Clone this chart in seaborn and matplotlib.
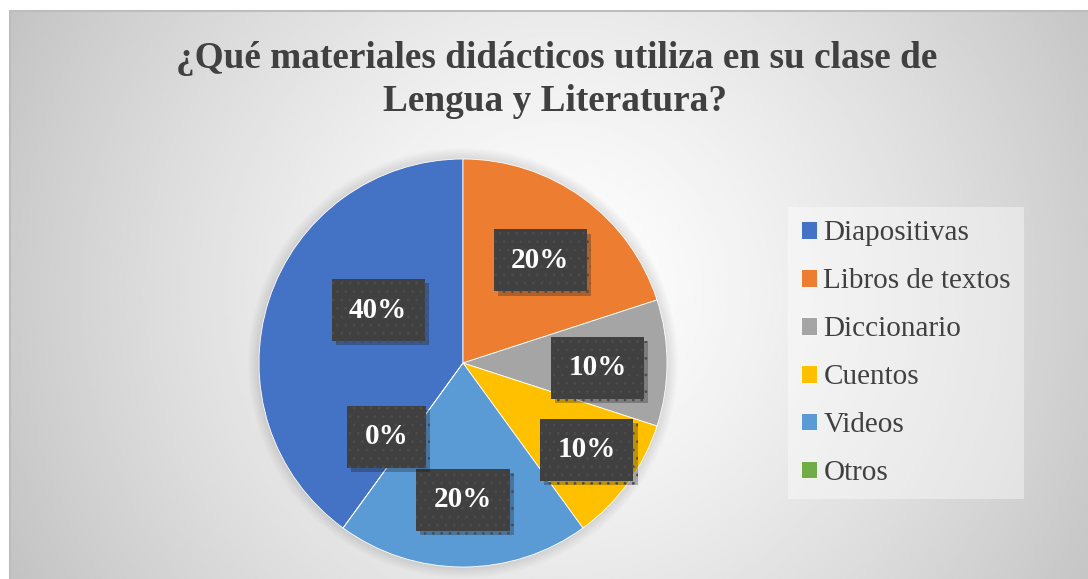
import numpy as np
import matplotlib
matplotlib.use("Agg")
import matplotlib.pyplot as plt
import matplotlib.patheffects as pe
from matplotlib.patches import Circle
from matplotlib.lines import Line2D
import seaborn as sns

# ---- data ----
categories = ["Diapositivas", "Libros de textos", "Diccionario", "Cuentos", "Videos", "Otros"]
percentages = [40, 20, 10, 10, 20, 0]
title_lines = ["¿Qué materiales didácticos utiliza en su clase de", "Lengua y Literatura?"]

# ---- style ----
colors = ["#4472C4", "#ED7D31", "#A5A5A5", "#FFC000", "#5B9BD5", "#70AD47"]
# label placement tweaks (fraction of radius, clockwise angle nudge in degrees)
label_r = [0.49, 0.63, 0.66, 0.74, 0.67, 0.52]
label_dang = [14, 1, 2, -1, 0, 10]

sns.set_theme(style="white")
plt.rcParams["font.family"] = ["Liberation Serif", "DejaVu Serif"]
plt.rcParams["hatch.linewidth"] = 0.8

W, H = 1088, 579
fig = plt.figure(figsize=(W / 100, H / 100), dpi=100)
fig.patch.set_facecolor("white")

# background radial gradient
bg = fig.add_axes([10 / W, 0, 1 - 10 / W, (H - 11) / H])
xs = np.linspace(10, W, 400)
ys = np.linspace(11, H, 220)
X, Y = np.meshgrid(xs, ys)
d = np.hypot(X - 560, Y - 290) / 610
v = 1 - 0.23 * np.clip(d, 0, 1.2) ** 1.3
bg.imshow(v, cmap="gray", vmin=0, vmax=1, extent=[0, 1, 0, 1], aspect="auto",
          origin="upper", interpolation="bilinear")
bg.set_axis_off()
fig.add_artist(Line2D([10 / W, 10 / W], [0, (H - 11) / H], color="#bdbdbd", lw=1.5))
fig.add_artist(Line2D([10 / W, 1], [(H - 11) / H, (H - 11) / H], color="#bdbdbd", lw=1.5))

# pie
cx, cy, R = 463, 363, 204
L = 1.2
size = 2 * L * R
ax = fig.add_axes([(cx - L * R) / W, (H - cy - L * R) / H, size / W, size / H])
wedges, texts, autotexts = ax.pie(
    percentages, colors=colors, startangle=-126, counterclock=False,
    autopct="%1.0f%%", pctdistance=0.65,
    wedgeprops=dict(linewidth=0.6, edgecolor="white"))
ax.set_xlim(-L, L)
ax.set_ylim(-L, L)
ax.set_aspect("equal")
ax.set_axis_off()

for i in range(10):
    ax.add_patch(Circle((0, 0), 1 + 0.006 * i, facecolor="black", alpha=0.012,
                        lw=0, zorder=0))

for i, (w, t) in enumerate(zip(wedges, autotexts)):
    mid = (w.theta1 + w.theta2) / 2 - label_dang[i]
    r = label_r[i]
    t.set_position((r * np.cos(np.radians(mid)), r * np.sin(np.radians(mid))))
    t.set_color("white")
    t.set_fontsize(21)
    t.set_fontweight("bold")
    t.set_zorder(5)
    t.set_bbox(dict(boxstyle="square,pad=0.6", facecolor="#404040",
                    edgecolor="#4c4c4c", linewidth=0, hatch=".."))
    t.get_bbox_patch().set_path_effects(
        [pe.withSimplePatchShadow(offset=(3, -3), alpha=0.28)])

# legend
leg = ax.legend(wedges, categories, loc="upper left",
                bbox_to_anchor=(788 / W, 1 - 207 / H), bbox_transform=fig.transFigure,
                frameon=True, fancybox=False, borderaxespad=0, fontsize=21,
                handlelength=0.55, handleheight=0.55, handletextpad=0.2,
                labelspacing=0.75, borderpad=0.46)
fr = leg.get_frame()
fr.set_facecolor("white")
fr.set_alpha(0.4)
fr.set_edgecolor("none")
for t in leg.get_texts():
    t.set_color("#404040")

# title
fig.text(557 / W, 1 - 68 / H, title_lines[0], ha="center", va="baseline",
         fontsize=26.8, fontweight="bold", color="#404040")
fig.text(555 / W, 1 - 111 / H, title_lines[1], ha="center", va="baseline",
         fontsize=26.8, fontweight="bold", color="#404040")

fig.savefig("out.png", dpi=100)
